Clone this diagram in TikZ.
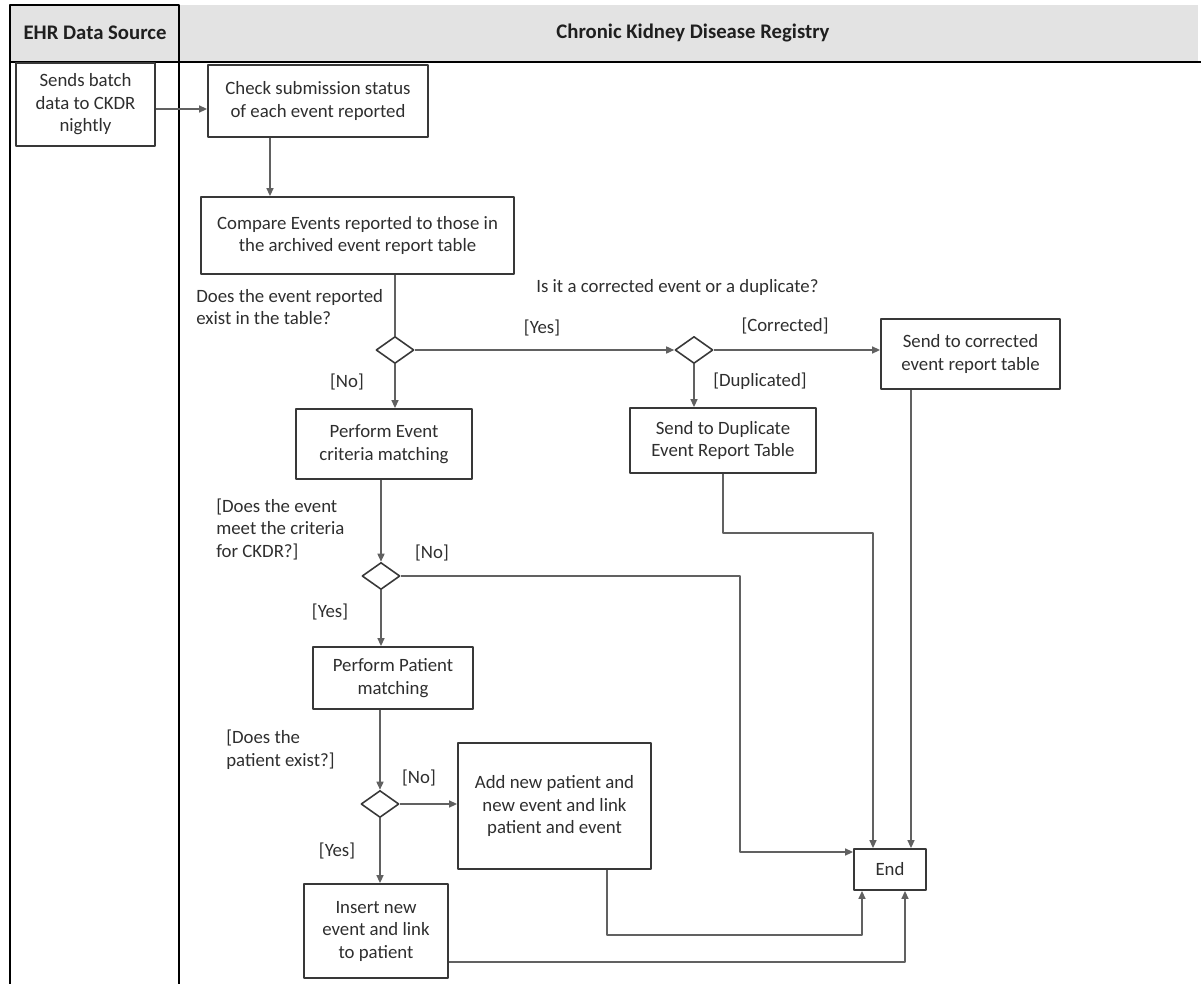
\documentclass[tikz,border=0pt]{standalone}
\usepackage{fontspec}
\setmainfont{Carlito}
\usetikzlibrary{shapes.geometric,arrows.meta}
\begin{document}
\begin{tikzpicture}[x=0.02cm,y=-0.02cm,>={Triangle[length=0.16cm,width=0.14cm]},line join=round,
	font=\fontsize{10.7}{12.8}\selectfont,
	every node/.style={text=black!82},
	act/.style={draw=black!78,line width=1.05pt,align=center,inner sep=2pt},
	choice/.style={draw=black!78,line width=0.9pt,diamond,minimum width=0.76cm,minimum height=0.54cm,inner sep=0pt},
	flow/.style={draw=black!62,line width=0.85pt},
	guard/.style={inner sep=0pt,align=left},
	lanehead/.style={font=\fontsize{11.8}{14}\selectfont\bfseries,text=black!88},
	lane/.style={line width=1.6pt}]
				\useasboundingbox (0,0) rectangle (1201,984);
				\fill[black!11] (10,5) rectangle (1198,62);
				\draw[lane] (10,984) -- (10,5) -- (179,5) -- (179,984);
				\draw[lane] (10,62) -- (1201,62);
				\node[lanehead] (hEHR) at (95,33) {EHR Data Source};
				\node[lanehead] (hCKDR) at (693,33) {Chronic Kidney Disease Registry};
				\node[act,minimum width=2.78cm,minimum height=1.66cm] (send) at (85.5,104.5) {Sends batch\\data to CKDR\\nightly};
				\node[act,minimum width=4.40cm,minimum height=1.44cm] (check) at (318,101) {Check submission status\\of each event reported};
				\node[act,minimum width=6.26cm,minimum height=1.54cm] (compare) at (357.5,235.5) {Compare Events reported to those in\\the archived event report table};
				\node[act,minimum width=3.52cm,minimum height=1.40cm] (perfev) at (384,444) {Perform Event\\criteria matching};
				\node[act,minimum width=3.58cm,minimum height=1.40cm] (corrected) at (970.5,354) {Send to corrected\\event report table};
				\node[act,minimum width=3.72cm,minimum height=1.30cm] (duplicate) at (723,440.5) {Send to Duplicate\\Event Report Table};
				\node[act,minimum width=3.20cm,minimum height=1.24cm] (perfpat) at (393,678) {Perform Patient\\matching};
				\node[act,minimum width=3.86cm,minimum height=2.52cm] (addpat) at (554.5,806) {Add new patient and\\new event and link\\patient and event};
				\node[act,minimum width=2.88cm,minimum height=1.88cm] (insert) at (376,931) {Insert new\\event and link\\to patient};
				\node[act,minimum width=1.44cm,minimum height=0.82cm] (endbox) at (890,869.5) {End};
				\node[choice] (d1) at (395,350) {};
				\node[choice] (d2) at (694,350) {};
				\node[choice] (d3) at (381,576) {};
				\node[choice] (d4) at (380,804) {};
				\node[guard,anchor=west] (q1) at (196,307) {Does the event reported\\exist in the table?};
				\node[guard,anchor=west] (q2) at (536,287) {Is it a corrected event or a duplicate?};
				\node[guard,anchor=west] (q3) at (216,529) {[Does the event\\meet the criteria\\for CKDR?]};
				\node[guard,anchor=west] (q4) at (226,749.5) {[Does the\\patient exist?]};
				\node[guard] (g1) at (542,328) {[Yes]};
				\node[guard] (g2) at (347,382) {[No]};
				\node[guard] (g3) at (785,326) {[Corrected]};
				\node[guard] (g4) at (760,381) {[Duplicated]};
				\node[guard] (g5) at (432,553) {[No]};
				\node[guard] (g6) at (330,612) {[Yes]};
				\node[guard] (g7) at (419,778) {[No]};
				\node[guard] (g8) at (337,851) {[Yes]};
				\path
				(0,109) coordinate (P_1)
				(270,0) coordinate (P_2)
				(740,852) coordinate (P_3)
				(873,533) coordinate (P_4)
				(911,0) coordinate (P_5)
				(607,0) coordinate (P_6)
				(862,935) coordinate (P_7)
				(905,962) coordinate (P_8)
				;
				\draw[flow,->] (send.east |- P_1) -- (check.west |- P_1);
				\draw[flow,->] (check.south -| P_2) -- (compare.north -| P_2);
				\draw[flow] (compare.south -| d1) -- (d1.north);
				\draw[flow,->] (d1.east) -- (d2.west);
				\draw[flow,->] (d2.east) -- (corrected.west |- d2);
				\draw[flow,->] (perfev.south -| d3) -- (d3.north);
				\draw[flow,->] (perfpat.south -| d4) -- (d4.north);
				\draw[flow,->] (d4.east) -- (addpat.west |- d4);
				\foreach \a/\b in {d1/perfev,d2/duplicate,d3/perfpat,d4/insert} \draw[flow,->] (\a.south) -- (\b.north -| \a);
				\draw[flow,->] (d3.east) -| (P_3) -- (endbox.west |- P_3);
				\draw[flow,->] (duplicate.south) |- (P_4) -- (endbox.north -| P_4);
				\draw[flow,->] (corrected.south -| P_5) -- (endbox.north -| P_5);
				\draw[flow,->] (addpat.south -| P_6) |- (P_7) -- (endbox.south -| P_7);
				\draw[flow,->] (insert.east |- P_8) -- (P_8) -- (endbox.south -| P_8);
\end{tikzpicture}
\end{document}
